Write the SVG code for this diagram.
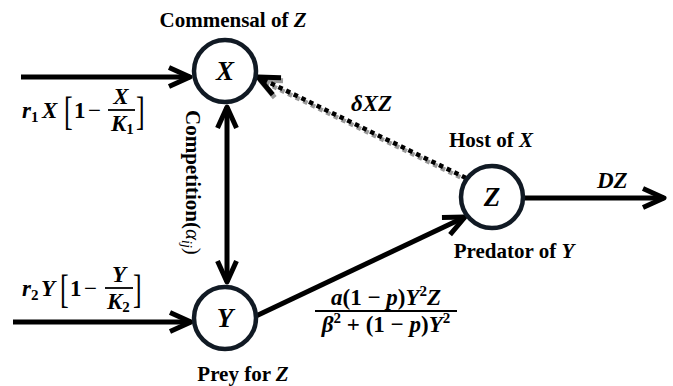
<svg xmlns="http://www.w3.org/2000/svg" width="673" height="386" viewBox="0 0 673 386">
<style>
.t{font-family:"Liberation Serif","Times New Roman",serif;font-weight:bold;font-size:21px;fill:#000}
.m{font-family:"Liberation Serif","Times New Roman",serif;font-weight:bold;font-size:23px;fill:#000}
.big{font-size:27px}
.i{font-style:italic}
.n{font-weight:normal}
.sub{font-size:15px;font-style:normal}
.br{font-family:"Liberation Serif","Times New Roman",serif;font-weight:normal;font-size:26px;fill:#000}
.node circle{fill:#fff;stroke:#111a24;stroke-width:4.5}
.ln{fill:none;stroke:#000;stroke-width:5}
.dot{fill:none;stroke:#000;stroke-width:4.5;stroke-dasharray:4.5 4}
.dotsh{fill:none;stroke:#9a9a9a;stroke-width:4.5;stroke-dasharray:4.5 4}
.bar{stroke:#000;stroke-width:1.8}
</style>
<defs>
<marker id="ah" markerUnits="userSpaceOnUse" markerWidth="34" markerHeight="34" viewBox="-28 -17 34 34" refX="0" refY="0" orient="auto-start-reverse">
<path d="M-21,-9.5 L0,0 L-21,9.5" fill="none" stroke="#000" stroke-width="5" stroke-linejoin="round" stroke-linecap="butt"/>
</marker>
<marker id="ahg" markerUnits="userSpaceOnUse" markerWidth="34" markerHeight="34" viewBox="-28 -17 34 34" refX="0" refY="0" orient="auto">
<path d="M-21,-9.5 L0,0 L-21,9.5" fill="none" stroke="#9a9a9a" stroke-width="5" stroke-linejoin="round"/>
</marker>
</defs>
<rect width="673" height="386" fill="#fff"/>

<g id="connectors">
<path class="ln" d="M21,77 L190,77" marker-end="url(#ah)"/>
<path class="ln" d="M13,322 L191,322" marker-end="url(#ah)"/>
<path class="ln" d="M227,282 L227,107" marker-start="url(#ah)" marker-end="url(#ah)"/>
<path class="ln" d="M256,316 L465,217" marker-end="url(#ah)"/>
<path class="ln" d="M523,198 L664,198" marker-end="url(#ah)"/>
<path class="dotsh" d="M468,181 L260,80" marker-end="url(#ahg)"/>
<path class="dot" d="M466,178 L258,77" marker-end="url(#ah)"/>
</g>

<g id="node-X" class="node">
<circle cx="225" cy="71" r="31"/>
<text class="t i big" x="225" y="80" text-anchor="middle">X</text>
<text class="t" x="233" y="27" text-anchor="middle">Commensal of <tspan class="i">Z</tspan></text>
</g>
<g id="node-Y" class="node">
<circle cx="225" cy="318" r="31"/>
<text class="t i big" x="225" y="327" text-anchor="middle">Y</text>
<text class="t" x="243" y="381" text-anchor="middle">Prey for <tspan class="i">Z</tspan></text>
</g>
<g id="node-Z" class="node">
<circle cx="492" cy="197" r="31"/>
<text class="t i big" x="492" y="206" text-anchor="middle">Z</text>
<text class="t" x="491" y="147" text-anchor="middle">Host of <tspan class="i">X</tspan></text>
<text class="t" x="514" y="258" text-anchor="middle">Predator of <tspan class="i">Y</tspan></text>
</g>

<g id="labels">
<!-- r1X[1 - X/K1] -->
<text class="m i" x="22" y="118">r<tspan class="sub" dy="4">1</tspan><tspan x="42" dy="-4">X</tspan></text>
<text class="br" transform="translate(64,125) scale(1,1.5)">[</text>
<text class="m" x="74" y="118">1</text>
<text class="m n" x="88" y="118">−</text>
<text class="m i" x="121" y="104" text-anchor="middle">X</text>
<line class="bar" x1="108" y1="110" x2="135" y2="110"/>
<text class="m i" x="111" y="131">K<tspan class="sub" dy="3">1</tspan></text>
<text class="br" transform="translate(136,125) scale(1,1.5)">]</text>

<!-- r2Y[1 - Y/K2] -->
<text class="m i" x="22" y="296">r<tspan class="sub" dy="4">2</tspan><tspan x="41" dy="-4">Y</tspan></text>
<text class="br" transform="translate(60,303) scale(1,1.5)">[</text>
<text class="m" x="70" y="296">1</text>
<text class="m n" x="84" y="296">−</text>
<text class="m i" x="119" y="282" text-anchor="middle">Y</text>
<line class="bar" x1="105" y1="288" x2="133" y2="288"/>
<text class="m i" x="107" y="309">K<tspan class="sub" dy="3">2</tspan></text>
<text class="br" transform="translate(133,303) scale(1,1.5)">]</text>

<!-- Competition -->
<text class="t" transform="translate(186,110) rotate(90)">Competition(<tspan class="n i">α<tspan font-size="14" dy="4">ij</tspan></tspan><tspan class="n" dy="-4">)</tspan></text>

<!-- delta XZ -->
<text class="m i" x="351" y="111">δXZ</text>

<!-- DZ -->
<text class="m i" x="597" y="188">DZ</text>

<!-- fraction -->
<text class="m" x="386" y="305" text-anchor="middle"><tspan class="i">a</tspan>(1 − <tspan class="i">p</tspan>)<tspan class="i">Y</tspan><tspan font-size="15" dy="-9">2</tspan><tspan class="i" dy="9">Z</tspan></text>
<line class="bar" x1="315" y1="311" x2="457" y2="311"/>
<text class="m" x="386" y="332" text-anchor="middle"><tspan class="i">β</tspan><tspan font-size="15" dy="-9">2</tspan><tspan dy="9"> + (1 − </tspan><tspan class="i">p</tspan>)<tspan class="i">Y</tspan><tspan font-size="15" dy="-9">2</tspan></text>
</g>
</svg>
